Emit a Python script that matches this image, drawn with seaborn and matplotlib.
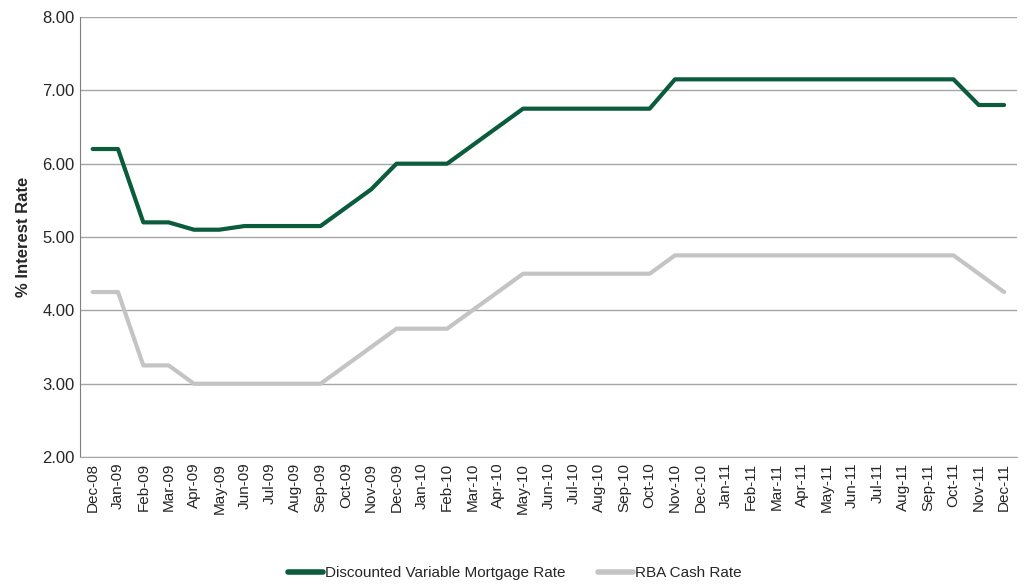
import matplotlib
matplotlib.use("Agg")
import matplotlib.pyplot as plt
import seaborn as sns
import pandas as pd

# Dados
months = ["Dec-08", "Jan-09", "Feb-09", "Mar-09", "Apr-09", "May-09", "Jun-09", "Jul-09",
          "Aug-09", "Sep-09", "Oct-09", "Nov-09", "Dec-09", "Jan-10", "Feb-10", "Mar-10",
          "Apr-10", "May-10", "Jun-10", "Jul-10", "Aug-10", "Sep-10", "Oct-10", "Nov-10",
          "Dec-10", "Jan-11", "Feb-11", "Mar-11", "Apr-11", "May-11", "Jun-11", "Jul-11",
          "Aug-11", "Sep-11", "Oct-11", "Nov-11", "Dec-11"]

mortgage_rate = [6.20, 6.20, 5.20, 5.20, 5.10, 5.10, 5.15, 5.15, 5.15, 5.15, 5.40, 5.65,
                 6.00, 6.00, 6.00, 6.25, 6.50, 6.75, 6.75, 6.75, 6.75, 6.75, 6.75, 7.15,
                 7.15, 7.15, 7.15, 7.15, 7.15, 7.15, 7.15, 7.15, 7.15, 7.15, 7.15, 6.80, 6.80]

cash_rate = [4.25, 4.25, 3.25, 3.25, 3.00, 3.00, 3.00, 3.00, 3.00, 3.00, 3.25, 3.50,
             3.75, 3.75, 3.75, 4.00, 4.25, 4.50, 4.50, 4.50, 4.50, 4.50, 4.50, 4.75,
             4.75, 4.75, 4.75, 4.75, 4.75, 4.75, 4.75, 4.75, 4.75, 4.75, 4.75, 4.50, 4.25]

series_names = ["Discounted Variable Mortgage Rate", "RBA Cash Rate"]
colors = ["#0B5B3D", "#C4C4C4"]

df = pd.DataFrame({
    "Month": months * 2,
    "Rate": mortgage_rate + cash_rate,
    "Series": [series_names[0]] * len(months) + [series_names[1]] * len(months),
})

sns.set_style("white")
plt.rcParams["font.family"] = ["Liberation Sans Narrow", "Liberation Sans", "DejaVu Sans"]

fig = plt.figure(figsize=(10.26, 5.86), dpi=100)
ax = fig.add_axes([0.078, 0.22, 0.913, 0.751])

sns.lineplot(data=df, x="Month", y="Rate", hue="Series", palette=colors,
             linewidth=3, sort=False, ax=ax, legend=True)

ax.set_xlim(-0.5, len(months) - 0.5)
ax.set_ylim(2, 8)
ax.set_yticks([2, 3, 4, 5, 6, 7, 8])
ax.set_yticklabels([f"{v:.2f}" for v in range(2, 9)], fontsize=12)
ax.set_xticks(range(len(months)))
ax.set_xticklabels(months, rotation=90, fontsize=11, family=["Liberation Sans", "DejaVu Sans"])
ax.tick_params(axis="both", length=0, pad=4)
ax.yaxis.grid(True, color="#A6A6A6", linewidth=1)
ax.xaxis.grid(False)

for side in ["top", "right"]:
    ax.spines[side].set_visible(False)
ax.spines["left"].set_color("#7F7F7F")
ax.spines["bottom"].set_color("#A6A6A6")

ax.set_xlabel("")
ax.set_ylabel("% Interest Rate", fontsize=12, fontweight="bold",
              family=["Liberation Sans", "DejaVu Sans"], labelpad=8)

leg = ax.legend(loc="center", bbox_to_anchor=(0.464, -0.264), ncol=2, frameon=False,
                fontsize=11, handlelength=2.3, columnspacing=2.1, handletextpad=0.15)
for line in leg.get_lines():
    line.set_linewidth(4)

fig.savefig("out.png", dpi=100)
